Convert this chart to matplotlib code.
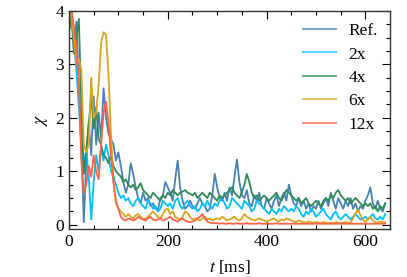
import numpy as np
import matplotlib
matplotlib.use("Agg")
import matplotlib.pyplot as plt
from matplotlib.ticker import MultipleLocator

# time axis, sampled every 5 ms
t = np.arange(0, 645, 5)

ref = [4.5, 4.2, 3.3, 3.8, 2.6, 1.5, 0.05, 1.2, 1.9, 1.3,
       2.4, 1.5, 2.1, 1.6, 2.55, 2.0, 1.7, 1.6, 1.5, 1.2,
       1.35, 1.1, 0.8, 0.6, 0.75, 1.15, 0.95, 0.7, 0.5, 0.4,
       0.6, 0.45, 0.5, 0.35, 0.4, 0.3, 0.28, 0.5, 0.55, 0.8,
       0.7, 0.6, 0.45, 0.85, 1.2, 0.7, 0.45, 0.3, 0.35, 0.45,
       0.35, 0.3, 0.4, 0.5, 0.4, 0.35, 0.25, 0.3, 0.55, 0.95,
       0.7, 0.5, 0.45, 0.6, 0.45, 0.7, 0.55, 0.9, 1.22, 0.8,
       0.55, 0.5, 0.65, 0.4, 0.35, 0.55, 0.45, 0.6, 0.35, 0.3,
       0.5, 0.4, 0.3, 0.45, 0.55, 0.35, 0.5, 0.6, 0.45, 0.75,
       0.55, 0.4, 0.35, 0.5, 0.35, 0.45, 0.3, 0.4, 0.25, 0.35,
       0.3, 0.45, 0.3, 0.4, 0.5, 0.35, 0.6, 0.45, 0.3, 0.5,
       0.4, 0.3, 0.45, 0.35, 0.5, 0.3, 0.4, 0.25, 0.35, 0.3,
       0.45, 0.55, 0.7, 0.4, 0.3, 0.45, 0.3, 0.25, 0.4]

x2 = [4.2, 3.9, 3.4, 2.9, 2.2, 1.5, 1.1, 1.4, 0.9, 0.1,
      0.8, 1.3, 1.0, 1.45, 1.2, 1.5, 1.3, 1.0, 0.9, 0.75,
      0.6, 0.5, 0.55, 0.45, 0.5, 0.4, 0.35, 0.45, 0.5, 0.4,
      0.35, 0.3, 0.45, 0.4, 0.3, 0.35, 0.25, 0.3, 0.45, 0.4,
      0.35, 0.4, 0.3, 0.45, 0.5, 0.35, 0.3, 0.4, 0.45, 0.35,
      0.3, 0.35, 0.25, 0.3, 0.4, 0.35, 0.45, 0.35, 0.3, 0.4,
      0.35, 0.45, 0.5, 0.4, 0.3, 0.35, 0.5, 0.45, 0.4, 0.35,
      0.3, 0.45, 0.4, 0.35, 0.25, 0.3, 0.45, 0.4, 0.35, 0.3,
      0.25, 0.2, 0.3, 0.25, 0.2, 0.3, 0.25, 0.35, 0.3, 0.25,
      0.3, 0.25, 0.35, 0.3, 0.2, 0.15, 0.25, 0.2, 0.3, 0.25,
      0.15, 0.2, 0.25, 0.3, 0.2, 0.15, 0.1, 0.2, 0.25, 0.15,
      0.1, 0.15, 0.2, 0.15, 0.1, 0.15, 0.2, 0.15, 0.1, 0.12,
      0.15, 0.1, 0.15, 0.2, 0.12, 0.1, 0.15, 0.1, 0.2]

x4 = [3.6, 3.9, 3.2, 3.5, 3.85, 2.2, 0.95, 1.4, 1.9, 2.4,
      1.8, 2.2, 1.6, 1.5, 1.3, 1.25, 1.15, 1.3, 1.1, 1.0,
      0.95, 0.9, 0.8, 0.85, 0.75, 0.7, 0.75, 0.65, 0.7, 0.78,
      0.65, 0.6, 0.55, 0.5, 0.6, 0.55, 0.5, 0.45, 0.55, 0.5,
      0.6, 0.55, 0.65, 0.6, 0.55, 0.6, 0.62, 0.65, 0.6, 0.58,
      0.55, 0.6, 0.5, 0.55, 0.6, 0.55, 0.5, 0.6, 0.55, 0.5,
      0.45, 0.55, 0.5, 0.55, 0.6, 0.65, 0.7, 0.6, 0.55, 0.5,
      0.6, 0.75, 0.95, 0.8, 0.6, 0.5, 0.55, 0.45, 0.5, 0.55,
      0.5, 0.45, 0.5, 0.55, 0.6, 0.5, 0.45, 0.55, 0.65, 0.6,
      0.55, 0.5, 0.45, 0.5, 0.4, 0.45, 0.5, 0.4, 0.35, 0.4,
      0.45, 0.4, 0.35, 0.45, 0.5, 0.45, 0.55, 0.5, 0.6, 0.65,
      0.55, 0.5, 0.45, 0.5, 0.4, 0.45, 0.5, 0.45, 0.4, 0.35,
      0.4, 0.35, 0.4, 0.3, 0.35, 0.25, 0.35, 0.3, 0.4]

x6 = [4.3, 3.9, 3.5, 3.0, 3.1, 2.9, 1.5, 1.35, 1.5, 2.75,
      2.0, 2.1, 2.6, 3.4, 3.6, 3.55, 2.8, 1.7, 0.8, 0.4,
      0.3, 0.25, 0.2, 0.15, 0.2, 0.15, 0.12, 0.18, 0.2, 0.15,
      0.1, 0.12, 0.15, 0.2, 0.25, 0.2, 0.15, 0.12, 0.2, 0.28,
      0.3, 0.2, 0.25, 0.15, 0.12, 0.1, 0.15, 0.25, 0.22, 0.15,
      0.1, 0.12, 0.1, 0.08, 0.12, 0.15, 0.1, 0.12, 0.08, 0.1,
      0.12, 0.1, 0.15, 0.12, 0.08, 0.1, 0.12, 0.15, 0.1, 0.08,
      0.12, 0.2, 0.15, 0.12, 0.1, 0.08, 0.1, 0.12, 0.1, 0.08,
      0.06, 0.08, 0.1, 0.12, 0.08, 0.06, 0.1, 0.08, 0.12, 0.1,
      0.08, 0.06, 0.05, 0.08, 0.06, 0.05, 0.04, 0.06, 0.05, 0.04,
      0.05, 0.04, 0.03, 0.05, 0.04, 0.03, 0.04, 0.03, 0.05, 0.04,
      0.03, 0.04, 0.05, 0.03, 0.05, 0.12, 0.22, 0.28, 0.18, 0.1,
      0.05, 0.1, 0.15, 0.08, 0.05, 0.04, 0.06, 0.05, 0.04]

x12 = [4.4, 4.0, 3.7, 3.3, 2.6, 1.2, 0.6, 0.75, 1.1, 0.9,
       1.3, 1.0, 0.85, 1.5, 2.1, 2.3, 1.9, 1.3, 0.8, 0.45,
       0.3, 0.15, 0.1, 0.08, 0.12, 0.1, 0.08, 0.1, 0.15, 0.12,
       0.1, 0.08, 0.12, 0.15, 0.1, 0.08, 0.1, 0.12, 0.08, 0.1,
       0.12, 0.15, 0.1, 0.08, 0.06, 0.1, 0.12, 0.08, 0.06, 0.05,
       0.06, 0.08, 0.12, 0.15, 0.2, 0.12, 0.06, 0.04, 0.03, 0.03,
       0.03, 0.02, 0.03, 0.02, 0.02, 0.03, 0.02, 0.02, 0.03, 0.02,
       0.02, 0.02, 0.03, 0.02, 0.02, 0.02, 0.02, 0.03, 0.02, 0.02,
       0.02, 0.02, 0.02, 0.02, 0.03, 0.02, 0.02, 0.02, 0.02, 0.02,
       0.02, 0.02, 0.02, 0.02, 0.02, 0.02, 0.02, 0.02, 0.02, 0.02,
       0.02, 0.02, 0.02, 0.02, 0.02, 0.02, 0.02, 0.02, 0.02, 0.02,
       0.02, 0.02, 0.02, 0.02, 0.02, 0.02, 0.02, 0.02, 0.02, 0.02,
       0.02, 0.02, 0.02, 0.02, 0.02, 0.02, 0.02, 0.02, 0.02]

labels = ["Ref.", "2x", "4x", "6x", "12x"]
colors = ["#4682b4", "#00bfff", "#2e8b57", "#daa520", "#ff6347"]

plt.rcParams["font.family"] = ["Liberation Serif", "DejaVu Serif"]
plt.rcParams["mathtext.fontset"] = "stix"

fig = plt.figure(figsize=(4.07, 2.77), dpi=100)
ax = fig.add_axes([0.1695, 0.173, 0.789, 0.788])

for series, label, color in zip([ref, x2, x4, x6, x12], labels, colors):
    ax.plot(t, series, color=color, lw=1.3, label=label)

ax.set_xlim(0, 650)
ax.set_ylim(-0.08, 4)
ax.xaxis.set_major_locator(MultipleLocator(200))
ax.xaxis.set_minor_locator(MultipleLocator(50))
ax.yaxis.set_major_locator(MultipleLocator(1))
ax.yaxis.set_minor_locator(MultipleLocator(0.25))
ax.tick_params(which="both", direction="in", top=True, right=True, labelsize=12.5)
ax.tick_params(which="major", length=6, width=0.8)
ax.tick_params(which="minor", length=3, width=0.8)
for sp in ax.spines.values():
    sp.set_linewidth(1.0)
    sp.set_color("#333333")

ax.set_xlabel(r"$t$ [ms]", fontsize=12.5, labelpad=6)
ax.set_ylabel(r"$\chi$", fontsize=12.5)

leg = ax.legend(loc="upper right", frameon=False, handlelength=1.9, fontsize=12.5,
                labelspacing=0.42, borderaxespad=0.3, handletextpad=0.7)
for line in leg.get_lines():
    line.set_alpha(0.7)
    line.set_linewidth(1.5)

fig.savefig("out.png", dpi=100)
